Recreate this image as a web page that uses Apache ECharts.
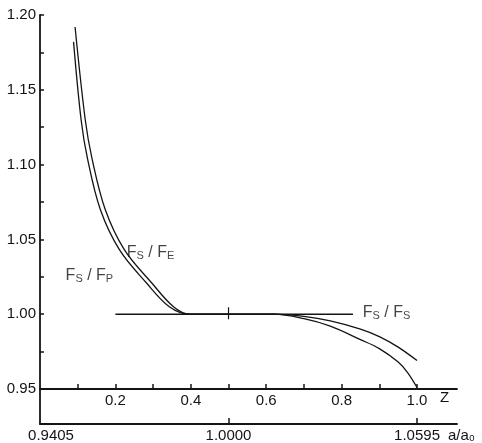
<!DOCTYPE html>
<html><head><meta charset="utf-8">
<script src="https://cdn.jsdelivr.net/npm/echarts@6/dist/echarts.min.js"></script>
<style>html,body{margin:0;padding:0;background:#fff}#c{width:482px;height:443px}</style>
</head><body><div id="c"></div>
<script>
// Z positions and ratio values
const feZ = [0.093,0.120,0.138,0.173,0.224,0.296,0.354,0.397,0.50,0.62,0.70,0.77,0.85,0.90,0.95,0.975,1.00];
const feV = [1.192,1.130,1.104,1.070,1.043,1.021,1.005,1.000,1.000,1.000,0.997,0.992,0.983,0.977,0.968,0.961,0.951];
const fpZ = [0.089,0.109,0.126,0.160,0.211,0.282,0.343,0.397,0.50,0.62,0.70,0.77,0.85,0.90,0.95,1.00];
const fpV = [1.182,1.130,1.104,1.070,1.043,1.021,1.005,1.000,1.000,1.000,0.9985,0.9955,0.990,0.985,0.978,0.969];
const fsZ = [0.2, 0.83];
const fsV = [1.000, 1.000];
const markZ = [0.5, 0.5];
const markV = [0.9967, 1.0047];
// tick labels
const yTicks = [0.95,1.00,1.05,1.10,1.15,1.20];
const yTickLabels = ['0.95','1.00','1.05','1.10','1.15','1.20'];
const zTicks = [0.1,0.2,0.3,0.4,0.5,0.6,0.7,0.8,0.9,1.0];
const zLabelVals = [0.2,0.4,0.6,0.8,1.0];
const zTickLabels = ['0.2','0.4','0.6','0.8','1.0'];
const aLabelVals = [0,0.5,1.0];
const aTickLabels = ['0.9405','1.0000','1.0595'];
const aTicks = [0.5,1.0];
// annotation labels
const noteZ = [0.131, 0.293, 0.856];
const noteV = [1.026, 1.041, 1.001];
const noteSub = ['P', 'E', 'S'];

const ink = '#141414';
const font = 'Liberation Sans';
const zip = (a,b)=>a.map((x,i)=>[x,b[i]]);
const near = (v,arr)=>arr.findIndex(t=>Math.abs(t-v)<1e-6);

const chart = echarts.init(document.getElementById('c'), null, {renderer:'canvas'});
const rich = {
  F:{fontSize:16,fontFamily:font,color:ink},
  s:{fontSize:11,fontFamily:font,color:ink,padding:[7,0,0,0]},
  sl:{fontSize:16,fontFamily:font,color:ink}
};
const noteData = noteZ.map((z,i)=>{
  const item = {value:[z,noteV[i]]};
  if (i===2) item.label = {position:'right',distance:0};
  return item;
});
chart.setOption({
  animation:false,
  backgroundColor:'#fff',
  grid:[
    {left:40,right:25,top:15,bottom:54},
    {left:40,right:25,top:389,bottom:19}
  ],
  xAxis:[
    {gridIndex:0,type:'value',min:0,max:1.106,position:'bottom',
     axisLine:{show:true,onZero:false,lineStyle:{color:ink,width:1.8}},
     axisTick:{show:true,inside:true,length:5,customValues:zTicks,lineStyle:{color:ink,width:1.5}},
     axisLabel:{show:true,customValues:zLabelVals,margin:4,fontSize:15,fontFamily:font,color:ink,
       formatter:v=>{const i=near(v,zLabelVals);return i>=0?zTickLabels[i]:'';}},
     splitLine:{show:false},
     name:'Z',nameLocation:'end',nameGap:-17,
     nameTextStyle:{fontSize:15,fontFamily:font,color:ink,align:'left',verticalAlign:'top',padding:[1,0,0,0]}},
    {gridIndex:1,type:'value',min:0,max:1.106,position:'bottom',
     axisLine:{show:true,onZero:false,lineStyle:{color:ink,width:1.8}},
     axisTick:{show:true,inside:true,length:6,customValues:aTicks,lineStyle:{color:ink,width:1.5}},
     axisLabel:{show:true,customValues:aLabelVals,margin:4,fontSize:15,fontFamily:font,color:ink,
       formatter:v=>{const i=near(v,aLabelVals);if(i===0)return '{first|'+aTickLabels[0]+'}';return i>=0?aTickLabels[i]:'';},
       rich:{first:{fontSize:15,fontFamily:font,color:ink,padding:[0,0,0,22]}}},
     splitLine:{show:false},
     name:'a/a₀',nameLocation:'end',nameGap:-9,
     nameTextStyle:{fontSize:15,fontFamily:font,color:ink,align:'left',verticalAlign:'top',padding:[4,0,0,0]}}
  ],
  yAxis:[
    {gridIndex:0,type:'value',min:0.95,max:1.20,interval:0.025,
     axisLine:{show:true,onZero:false,lineStyle:{color:ink,width:1.8}},
     axisTick:{show:true,inside:true,length:4,lineStyle:{color:ink,width:1.5}},
     axisLabel:{show:true,customValues:yTicks,margin:4,fontSize:15,fontFamily:font,color:ink,
       formatter:v=>{const i=near(v,yTicks);return i>=0?yTickLabels[i]:'';}},
     splitLine:{show:false}},
    {gridIndex:1,type:'value',min:0,max:1,
     axisLine:{show:true,onZero:false,lineStyle:{color:ink,width:1.8}},
     axisTick:{show:false},axisLabel:{show:false},splitLine:{show:false}}
  ],
  series:[
    {type:'line',name:'FS/FE',data:zip(feZ,feV),smooth:0.35,showSymbol:false,
     lineStyle:{color:ink,width:1.3}},
    {type:'line',name:'FS/FP',data:zip(fpZ,fpV),smooth:0.35,showSymbol:false,
     lineStyle:{color:ink,width:1.3}},
    {type:'line',name:'FS/FS',data:zip(fsZ,fsV),showSymbol:false,lineStyle:{color:ink,width:1.4}},
    {type:'line',name:'mark',data:zip(markZ,markV),showSymbol:false,lineStyle:{color:ink,width:1.2}},
    {type:'scatter',data:noteData,symbolSize:0,
     label:{show:true,position:'inside',
       formatter:p=>'{F|F}{s|S}{sl| / }{F|F}{s|'+noteSub[p.dataIndex]+'}',
       rich:rich}}
  ]
});
</script></body></html>
